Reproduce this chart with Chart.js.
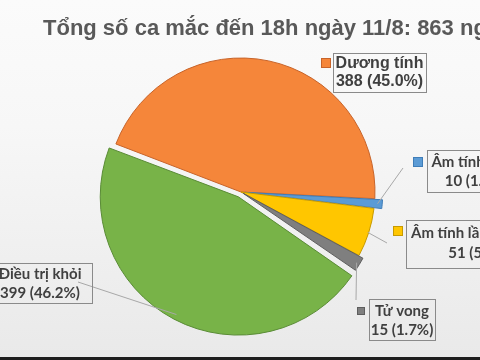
<!DOCTYPE html>
<html>
<head>
<meta charset="utf-8">
<script src="https://cdn.jsdelivr.net/npm/chart.js@4/dist/chart.umd.min.js"></script>
<style>
html,body{margin:0;padding:0;background:#f4f4f4;}
#c{display:block;}
</style>
</head>
<body>
<canvas id="c" width="480" height="360"></canvas>
<script>
// ---- data ----
const titleText = 'Tổng số ca mắc đến 18h ngày 11/8: 863 người';
const categories = ['Dương tính', 'Âm tính lần 1', 'Âm tính lần 2 trở lên', 'Tử vong', 'Điều trị khỏi'];
const values = [388, 10, 51, 15, 399];
const percentTexts = ['45.0%', '1.2%', '5.9%', '1.7%', '46.2%'];

// ---- styles ----
const fillColors = ['#F5863A', '#5B9BD5', '#FFC600', '#7F7F7F', '#78B348'];
const edgeColors = ['#C8642A', '#3F7DB8', '#C79A00', '#5E5E5E', '#5A8C36'];
const sliceOffsets = [0, 16, 0, 10, 22];
// label layout: box, text centre, key square, leader end
const labelLayout = [
  {box:[333,53,93,39], cx:379.5, y1:64, y2:82, key:[321,58,10], font:'bold 16px "Liberation Sans", Arial, sans-serif', leader:null},
  {box:[427,150,100,42], cx:476, y1:162, y2:181, key:[413,157,10], font:'bold 15px Lato, sans-serif', leader:[403,168]},
  {box:[406,220,150,48], cx:479.5, y1:233, y2:253, key:[393,226,10], font:'bold 15px Lato, sans-serif', leader:[387,243]},
  {box:[369,299,66,41], cx:402, y1:311, y2:330, key:[357,307,8], font:'bold 15px Lato, sans-serif', leader:[356,300]},
  {box:[-6,263,98,40], cx:40, y1:274, y2:293, key:[-20,268,10], font:'bold 15px Lato, sans-serif', leader:[78,282]}
];

const bgPlugin = {
  id: 'bg',
  beforeDraw(chart) {
    const ctx = chart.ctx;
    const g = ctx.createLinearGradient(0, 0, 0, 360);
    g.addColorStop(0, '#fbfbfb');
    g.addColorStop(0.35, '#f7f7f7');
    g.addColorStop(1, '#e9e9e9');
    ctx.save();
    ctx.fillStyle = g;
    ctx.fillRect(0, 0, chart.width, chart.height);
    ctx.restore();
  },
  afterDraw(chart) {
    const ctx = chart.ctx;
    ctx.save();
    ctx.fillStyle = '#595959';
    ctx.font = 'bold 22px "Liberation Sans", Arial, sans-serif';
    ctx.textBaseline = 'alphabetic';
    ctx.textAlign = 'left';
    ctx.fillText(titleText, 43, 35);

    const meta = chart.getDatasetMeta(0);
    meta.data.forEach((arc, i) => {
      const L = labelLayout[i];
      const p = arc.getProps(['x','y','startAngle','endAngle','outerRadius']);
      const mid = (p.startAngle + p.endAngle) / 2;
      const off = sliceOffsets[i] / 4;
      if (L.leader) {
        const r = p.outerRadius + off - 1;
        const sx = p.x + Math.cos(mid) * r;
        const sy = p.y + Math.sin(mid) * r;
        ctx.strokeStyle = '#a8a8a8';
        ctx.lineWidth = 1;
        ctx.beginPath();
        ctx.moveTo(sx, sy);
        ctx.lineTo(L.leader[0], L.leader[1]);
        ctx.stroke();
      }
      ctx.strokeStyle = '#8a8a8a';
      ctx.lineWidth = 1;
      ctx.strokeRect(L.box[0] + 0.5, L.box[1] + 0.5, L.box[2], L.box[3]);
      ctx.fillStyle = fillColors[i];
      ctx.fillRect(L.key[0], L.key[1], L.key[2], L.key[2]);
      ctx.strokeStyle = edgeColors[i];
      ctx.strokeRect(L.key[0] + 0.5, L.key[1] + 0.5, L.key[2] - 1, L.key[2] - 1);
      ctx.fillStyle = '#404040';
      ctx.font = L.font;
      ctx.textAlign = 'center';
      ctx.textBaseline = 'middle';
      ctx.fillText(categories[i], L.cx, L.y1);
      ctx.fillText(values[i] + ' (' + percentTexts[i] + ')', L.cx, L.y2);
    });
    ctx.fillStyle = '#1e1e1e';
    ctx.fillRect(0, 357, chart.width, 3);
    ctx.restore();
  }
};

new Chart(document.getElementById('c'), {
  type: 'pie',
  data: {
    labels: categories,
    datasets: [{
      data: values,
      backgroundColor: fillColors,
      borderColor: edgeColors,
      borderWidth: 1,
      offset: sliceOffsets,
      radius: 134
    }]
  },
  options: {
    responsive: false,
    animation: false,
    rotation: -69,
    layout: { padding: { left: 2, right: 0, top: 24, bottom: 0 } },
    plugins: { legend: { display: false }, tooltip: { enabled: false }, title: { display: false } },
    events: []
  },
  plugins: [bgPlugin]
});
</script>
</body>
</html>
